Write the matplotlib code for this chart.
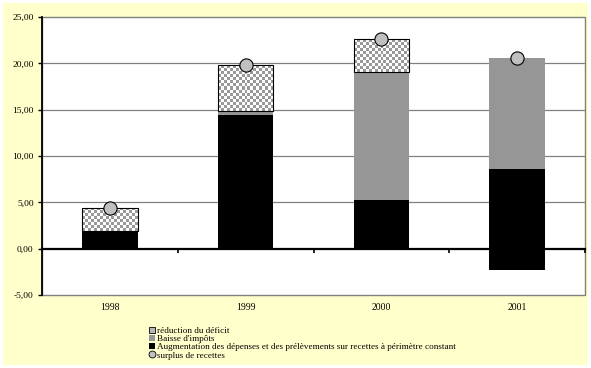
"""Stacked bars: décomposition du surplus de recettes 1998-2001."""

import matplotlib
matplotlib.use("Agg")
import matplotlib.pyplot as plt
import numpy as np
from matplotlib.patches import Patch, Rectangle
from matplotlib.lines import Line2D

plt.rcParams["font.family"] = ["Liberation Serif", "DejaVu Serif"]

years = ["1998", "1999", "2000", "2001"]
augmentation = [1.8, 14.45, 5.25, 8.6]     # black
augmentation_neg = [0.0, 0.0, 0.0, -2.35]  # black, below zero
baisse = [0.1, 0.4, 13.8, 12.0]            # grey
reduction = [2.5, 4.95, 3.55, 0.0]         # checker
surplus = [4.4, 19.8, 22.6, 20.6]          # circles
yticks = [-5, 0, 5, 10, 15, 20, 25]
ytick_labels = ["-5,00", "0,00", "5,00", "10,00", "15,00", "20,00", "25,00"]

YELLOW = "#FFFFCC"
GREY = "#969696"
CHECK = "#999999"
W = 0.41

fig = plt.figure(figsize=(5.91, 3.68), dpi=100, facecolor="white")
fig.patches.append(Rectangle((3 / 591, 3 / 368), 585 / 591, 362 / 368,
                             transform=fig.transFigure, facecolor=YELLOW,
                             edgecolor="none", zorder=-10))
ax = fig.add_axes([42 / 591, 73 / 368, 543 / 591, 278 / 368])
ax.set_xlim(-0.5, 3.5)
ax.set_ylim(-5, 25)

x = np.arange(len(years))
ax.bar(x, augmentation, W, color="black", zorder=3)
ax.bar(x, augmentation_neg, W, color="black", zorder=3)
bottom2 = np.array(augmentation)
ax.bar(x, baisse, W, bottom=bottom2, color=GREY, zorder=3)
bottom3 = bottom2 + np.array(baisse)
red_bars = ax.bar(x, reduction, W, bottom=bottom3, facecolor="none",
                  edgecolor="black", linewidth=0.8, zorder=5)

# checkerboard fill for "réduction du déficit", ~3px cells
fig.canvas.draw()
for rect in red_bars:
    h = rect.get_height()
    if h <= 0:
        rect.set_visible(False)
        continue
    x0, y0 = rect.get_x(), rect.get_y()
    p0 = ax.transData.transform((x0, y0))
    p1 = ax.transData.transform((x0 + rect.get_width(), y0 + h))
    nc = max(1, int(round((p1[0] - p0[0]) / 3)))
    nr = max(1, int(round((p1[1] - p0[1]) / 3)))
    board = (np.add.outer(np.arange(nr), np.arange(nc)) % 2).astype(float)
    im = ax.imshow(board, cmap=matplotlib.colors.ListedColormap(["white", CHECK]),
                   extent=(x0, x0 + rect.get_width(), y0, y0 + h),
                   interpolation="nearest", aspect="auto", zorder=4)
    im.set_clip_path(Rectangle((x0, y0), rect.get_width(), h, transform=ax.transData))
ax.set_aspect("auto")
ax.set_xlim(-0.5, 3.5)
ax.set_ylim(-5, 25)

ax.plot(x, surplus, "o", ms=9.5, mfc="#C0C0C0", mec="black", mew=0.8,
        linestyle="none", zorder=6)

# gridlines and plot-area frame
for v in [5, 10, 15, 20]:
    ax.axhline(v, color="#808080", lw=0.9, zorder=1)
ax.add_patch(Rectangle((0, 0), 1, 1, transform=ax.transAxes, fill=False,
                       edgecolor="#808080", lw=1.0, zorder=1, clip_on=False))
for s in ["top", "right"]:
    ax.spines[s].set_visible(False)
ax.spines["left"].set_linewidth(1.3)
ax.spines["left"].set_zorder(7)
ax.spines["bottom"].set_position(("data", 0))
ax.spines["bottom"].set_linewidth(1.6)
ax.spines["bottom"].set_zorder(7)

ax.set_yticks(yticks)
ax.set_yticklabels(ytick_labels, fontsize=6.8)
ax.tick_params(axis="y", length=3, width=1, pad=3)
ax.set_xticks([0.5, 1.5, 2.5, 3.5])
ax.set_xticklabels([])
ax.tick_params(axis="x", direction="out", length=3, width=1.2)
for xi, lab in zip(x, years):
    ax.text(xi, -0.03, lab, transform=ax.get_xaxis_transform(), ha="center",
            va="top", fontsize=7)

handles = [
    Patch(facecolor="#B8B8B8", edgecolor="black", linewidth=0.6),
    Patch(facecolor=GREY, edgecolor="none"),
    Patch(facecolor="black", edgecolor="none"),
    Line2D([], [], marker="o", ms=5.0, mfc="#C0C0C0", mec="black", mew=0.6,
           linestyle="none"),
]
labels = [
    "réduction du déficit",
    "Baisse d'impôts",
    "Augmentation des dépenses et des prélèvements sur recettes à périmètre constant",
    "surplus de recettes",
]
fig.legend(handles, labels, loc="upper left", bbox_to_anchor=(149 / 591, 1 - 327 / 368),
           frameon=False, fontsize=6.6, handlelength=0.6, handleheight=0.6,
           handletextpad=0.25, labelspacing=0.0, borderpad=0, borderaxespad=0)

fig.savefig("out.png", dpi=100, facecolor=fig.get_facecolor())
